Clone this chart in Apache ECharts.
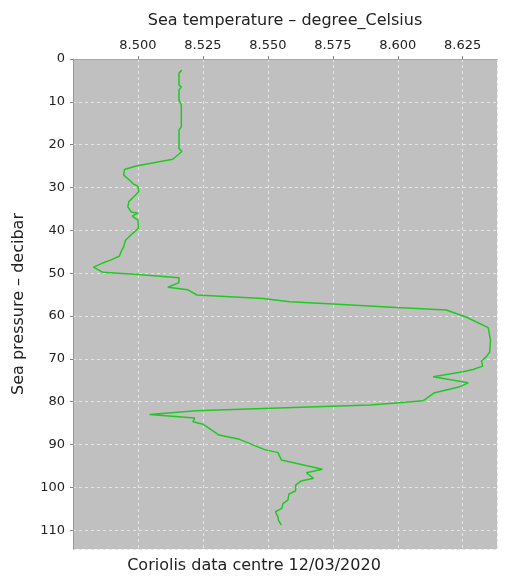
<!DOCTYPE html>
<html>
<head>
<meta charset="utf-8">
<script src="https://cdn.jsdelivr.net/npm/echarts@6/dist/echarts.min.js"></script>
<style>
  html, body { margin: 0; padding: 0; background: #ffffff; }
  #chart { width: 508px; height: 579px; }
</style>
</head>
<body>
<div id="chart"></div>
<script>
// Profile: sea pressure (decibar) and sea temperature (degree Celsius)
const pressure = [
  2.6, 3.3, 6.1, 6.5, 7.2, 9.6, 10.7, 15.8, 16.6, 20.9,
  21.6, 23.4, 25.0, 25.8, 27.1, 28.3, 29.2, 29.7, 31.0, 32.2,
  33.3, 34.5, 35.7, 36.0, 36.7, 37.6, 39.5, 40.7, 42.3, 43.8,
  45.0, 46.0, 46.9, 47.7, 48.6, 49.8, 50.3, 51.1, 52.2, 53.3,
  53.9, 55.1, 55.9, 56.7, 57.2, 58.0, 58.6, 60.3, 62.7, 65.6,
  68.4, 69.5, 70.5, 71.7, 72.5, 73.0, 74.2, 75.6, 76.5, 77.9,
  79.8, 80.3, 80.8, 81.6, 82.1, 83.0, 83.8, 84.7, 85.2, 85.9,
  87.8, 88.8, 91.2, 91.9, 93.6, 95.8, 96.6, 97.9, 98.5, 99.5,
  100.8, 101.6, 103.0, 103.8, 104.9, 105.7, 106.9, 107.7, 108.8
];
const temperature = [
  8.5169, 8.5158, 8.5158, 8.5167, 8.5158, 8.5158, 8.5167, 8.5167, 8.5158, 8.5158,
  8.5169, 8.5134, 8.4993, 8.4948, 8.4945, 8.4968, 8.4983, 8.5000, 8.5003, 8.4983,
  8.4965, 8.4961, 8.4974, 8.5000, 8.4978, 8.5000, 8.5002, 8.4980, 8.4952, 8.4945,
  8.4935, 8.4929, 8.4897, 8.4862, 8.4829, 8.4865, 8.5000, 8.5158, 8.5158, 8.5115,
  8.5192, 8.5227, 8.5481, 8.5584, 8.5751, 8.5995, 8.6187, 8.6265, 8.6348, 8.6357,
  8.6354, 8.6341, 8.6322, 8.6327, 8.6290, 8.6251, 8.6136, 8.6271, 8.6239, 8.6142,
  8.6097, 8.5995, 8.5892, 8.5481, 8.5224, 8.5045, 8.5218, 8.5212, 8.5247, 8.5266,
  8.5312, 8.5391, 8.5488, 8.5539, 8.5552, 8.5710, 8.5648, 8.5676, 8.5628, 8.5607,
  8.5607, 8.5581, 8.5577, 8.5558, 8.5554, 8.5529, 8.5539, 8.5541, 8.5552
];
const xTitle = 'Sea temperature \u2013 degree_Celsius';
const yTitle = 'Sea pressure \u2013 decibar';
const footer = 'Coriolis data centre 12/03/2020';

const points = pressure.map((p, i) => [temperature[i], p]);

const font = 'DejaVu Sans';
const gridDash = { color: '#e4e4e4', type: [3, 3], width: 1 };
const chart = echarts.init(document.getElementById('chart'), null, { renderer: 'canvas' });
chart.setOption({
  backgroundColor: '#ffffff',
  animation: false,
  title: {
    text: footer,
    left: 'center',
    bottom: 0,
    textStyle: { fontFamily: font, fontSize: 16, fontWeight: 'normal', color: '#222222' }
  },
  grid: {
    left: 73, right: 11, top: 59, bottom: 30,
    show: true, backgroundColor: '#c0c0c0', borderWidth: 0
  },
  xAxis: {
    type: 'value',
    position: 'top',
    min: 8.475,
    max: 8.6382,
    interval: 0.025,
    name: xTitle,
    nameLocation: 'middle',
    nameGap: 30,
    nameTextStyle: { fontFamily: font, fontSize: 16, color: '#222222' },
    axisLine: { show: true, lineStyle: { color: '#a8a8a8', width: 1 } },
    axisTick: { show: true, length: 3, lineStyle: { color: '#888888' } },
    axisLabel: {
      fontFamily: font, fontSize: 13, color: '#222222', margin: 7,
      showMinLabel: false, showMaxLabel: false,
      formatter: v => v.toFixed(3)
    },
    splitLine: { show: true, lineStyle: gridDash }
  },
  yAxis: {
    type: 'value',
    inverse: true,
    min: 0,
    max: 114.4,
    interval: 10,
    name: yTitle,
    nameLocation: 'middle',
    nameGap: 46,
    nameTextStyle: { fontFamily: font, fontSize: 16, color: '#222222' },
    axisLine: { show: true, lineStyle: { color: '#999999', width: 1 } },
    axisTick: { show: true, length: 3, lineStyle: { color: '#888888' } },
    axisLabel: {
      fontFamily: font, fontSize: 13, color: '#222222', margin: 8,
      showMaxLabel: false
    },
    splitLine: { show: true, lineStyle: gridDash }
  },
  series: [{
    type: 'line',
    data: points,
    showSymbol: false,
    lineStyle: { color: '#22c822', width: 1.5 },
    itemStyle: { color: '#22c822' }
  }]
});
</script>
</body>
</html>
